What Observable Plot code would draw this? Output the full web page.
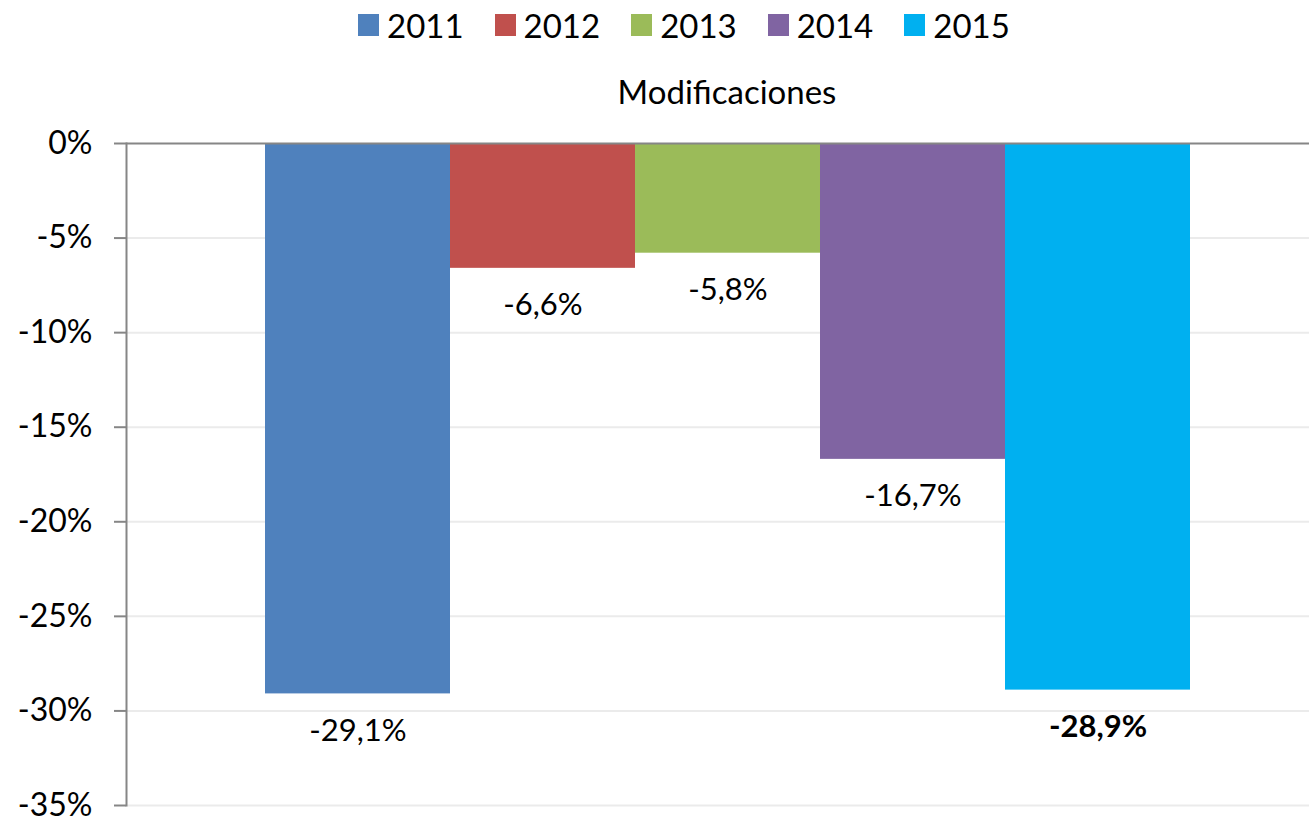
<!DOCTYPE html>
<html>
<head>
<meta charset="utf-8">
<script src="https://cdn.jsdelivr.net/npm/d3@7"></script>
<script src="https://cdn.jsdelivr.net/npm/@observablehq/plot@0.6"></script>
<style>
  html, body { margin: 0; padding: 0; background: #fff; overflow: hidden; }
  #wrap { position: relative; width: 1309px; height: 818px; font-family: Lato, "Noto Sans", sans-serif; }
  #legend { position: absolute; top: 5px; left: 358px; display: flex; gap: 31px; font-size: 33px; color: #000; }
  .item { display: flex; align-items: center; gap: 8px; }
  .sw { width: 21px; height: 22px; display: inline-block; }
</style>
</head>
<body>
<div id="wrap">
  <div id="legend"></div>
  <div id="chart"></div>
</div>
<script>
const category = "Modificaciones";
const years = ["2011", "2012", "2013", "2014", "2015"];
const values = [-29.1, -6.6, -5.8, -16.7, -28.9];
const colors = ["#4F81BD", "#C0504D", "#9BBB59", "#8064A2", "#00B0F0"];
const yTicks = [0, -5, -10, -15, -20, -25, -30, -35];
const boldYear = "2015";

const data = years.map((y, i) => ({year: y, value: values[i]}));
const loc = d3.formatLocale({decimal: ",", thousands: ".", grouping: [3], currency: ["", "€"], minus: "-"});
const fmt = loc.format(".1f");
const label = d => fmt(d.value) + "%";

const legend = document.getElementById("legend");
years.forEach((y, i) => {
  const it = document.createElement("div");
  it.className = "item";
  it.innerHTML = `<span class="sw" style="background:${colors[i]}"></span><span>${y}</span>`;
  legend.appendChild(it);
});

const plot = Plot.plot({
  width: 1309,
  height: 818,
  marginLeft: 126,
  marginRight: 0,
  marginTop: 143,
  marginBottom: 13,
  style: {fontFamily: "Lato, 'Noto Sans', sans-serif", background: "transparent", overflow: "visible"},
  x: {type: "band", domain: years, range: [264, 1190], padding: 0, axis: null},
  y: {domain: [-35, 0], axis: null},
  color: {domain: years, range: colors},
  marks: [
    Plot.ruleY(yTicks.filter(d => d !== 0), {stroke: "#ebebeb", strokeWidth: 2}),
    Plot.barY(data, {x: "year", y: "value", fill: "year"}),
    Plot.ruleY([0], {stroke: "#868686", strokeWidth: 2}),
    Plot.frame({anchor: "left", stroke: "#868686", strokeWidth: 2}),
    Plot.axisY({ticks: yTicks, tickSize: 12, tickPadding: 22, tickFormat: d => d + "%", stroke: "#868686", fill: "#000", fontSize: 32, strokeWidth: 2, label: null}),
    Plot.text(data.filter(d => d.year !== boldYear), {x: "year", y: "value", text: label, dy: 37, fontSize: 31, fill: "#000"}),
    Plot.text(data.filter(d => d.year === boldYear), {x: "year", y: "value", text: label, dy: 37, fontSize: 31, fontWeight: "bold", fill: "#000"}),
    Plot.text([category], {frameAnchor: "top", dx: 9, dy: -50, lineAnchor: "middle", fontSize: 33, fill: "#000"})
  ]
});
document.getElementById("chart").appendChild(plot);
</script>
</body>
</html>
